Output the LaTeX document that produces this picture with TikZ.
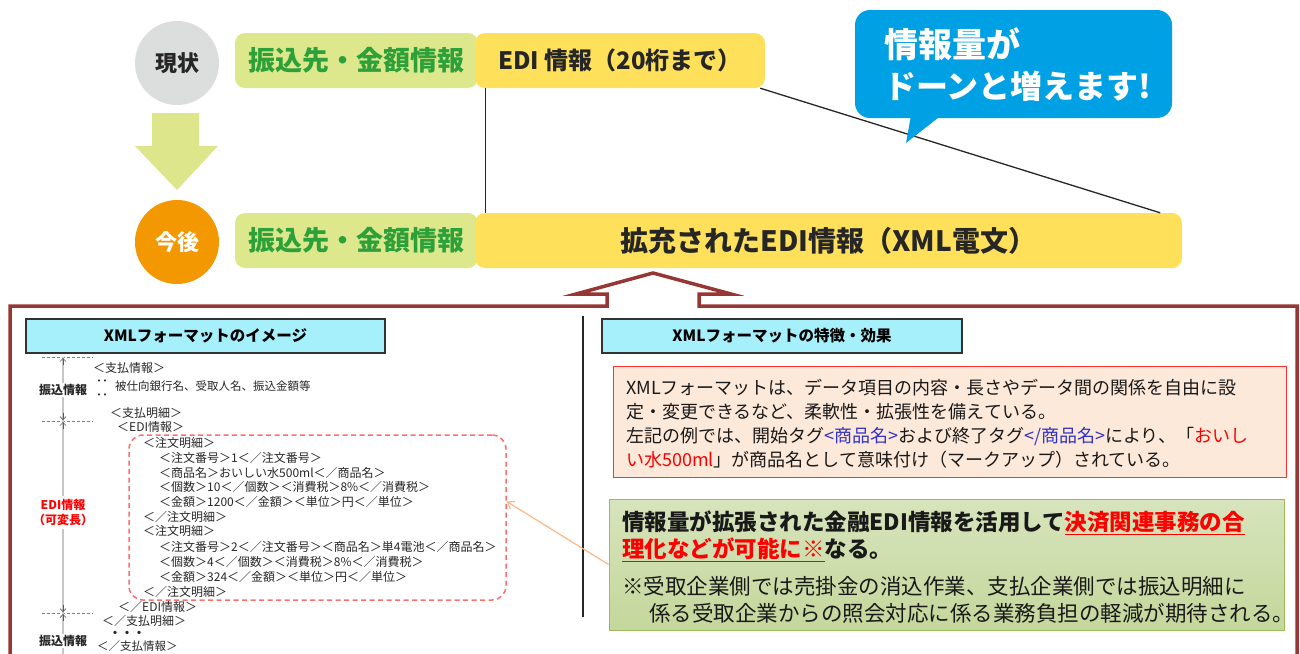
\documentclass[tikz,border=0pt]{standalone}
\usepackage{fontspec}
\setmainfont{Noto Sans CJK JP}
\usetikzlibrary{arrows.meta,calc}
\definecolor{circgray}{RGB}{220,221,221}
\definecolor{circorange}{RGB}{243,152,0}
\definecolor{arrgreen}{RGB}{222,230,140}
\definecolor{boxgreen}{RGB}{221,232,140}
\definecolor{txtgreen}{RGB}{46,160,58}
\definecolor{boxyellow}{RGB}{255,224,90}
\definecolor{bubbleblue}{RGB}{0,160,228}
\definecolor{framered}{RGB}{150,55,52}
\definecolor{hdrcyan}{RGB}{166,240,252}
\definecolor{peach}{RGB}{253,233,218}
\definecolor{descred}{RGB}{255,50,50}
\definecolor{gtop}{RGB}{215,228,189}
\definecolor{gbot}{RGB}{196,215,155}
\definecolor{gborder}{RGB}{155,187,89}
\definecolor{dashred}{RGB}{255,110,110}
\definecolor{arroworange}{RGB}{248,184,136}
\definecolor{tagblue}{RGB}{50,50,200}
\newcommand\fsz[1]{\fontsize{#1}{#1}\selectfont}
\begin{document}
\begin{tikzpicture}[x=1pt,y=-1pt,
  rbox/.style={rounded corners=10pt, minimum height=55pt, inner sep=0pt},
  greenbox/.style={rbox, fill=boxgreen, text=txtgreen, font=\bfseries\fsz{27}},
  yellowbox/.style={rbox, fill=boxyellow, text=black!85, font=\bfseries\fsz{24}},
  hdr/.style={draw=black!80, line width=1.2pt, fill=hdrcyan, minimum height=34pt, inner sep=0pt, font=\bfseries\fsz{15.5}},
  xml/.style={anchor=west, inner sep=0pt, font=\fsz{12}, text=black!85},
  lbl/.style={inner sep=1pt, fill=white, font=\bfseries\fsz{12}},
  measure/.style={draw=gray!45, line width=2pt},
  guide/.style={draw=gray, densely dashed, line width=0.6pt},
  frame/.style={draw=framered, line width=3.5pt, line join=miter},
  desc/.style={anchor=west, inner sep=0pt, font=\fsz{18}, text=black!90},
  gline/.style={anchor=west, inner sep=0pt, text=black!90},
  barb/.style={gray!70!black, line width=0.7pt, {Straight Barb[length=3pt,width=6pt]}-}
]
\useasboundingbox (0,0) rectangle (1300,653);
\clip (0,0) rectangle (1300,653);

% ---- top part ----
\node[circle, fill=circgray, minimum size=84pt, inner sep=0pt, font=\bfseries\fsz{22}, text=black!85] (now) at (177,63) {現状};
\fill[arrgreen] (152,113) -- (199,113) -- (199,146) -- (218,146) -- (177,190) -- (135,146) -- (152,146) -- cycle;
\node[circle, fill=circorange, minimum size=84pt, inner sep=0pt, font=\bfseries\fsz{22}, text=white] (future) at (177,242) {今後};

\node[greenbox, minimum width=243pt] (g1) at (356.5,60.5) {振込先・金額情報\hspace{6pt}};
\node[greenbox, minimum width=243pt] (g2) at (356.5,240.5) {振込先・金額情報\hspace{6pt}};
\node[yellowbox, minimum width=290pt] (edi1) at (620,60.5) {EDI 情報（20桁まで）};
\node[yellowbox, minimum width=707pt, font=\bfseries\fsz{28}] (edi2) at (828.5,240.5) {拡充されたEDI情報（XML電文）};

\draw[black!85, line width=1pt] ([xshift=11pt]edi1.south west) -- ([xshift=11pt]edi2.north west);
\draw[black!85, line width=1.3pt] ([xshift=-5pt]edi1.south east) -- ([xshift=-22pt]edi2.north east);

\node[fill=bubbleblue, rounded corners=15pt, minimum width=317pt, minimum height=108pt, inner sep=0pt] (bubble) at (1013.5,64) {};
\fill[bubbleblue] (912,110) -- (948,110) -- (906,143) -- cycle;
\node[anchor=west, inner sep=0pt, text=white, font=\bfseries\fsz{34}] (b1) at (884,44) {情報量が};
\node[anchor=west, inner sep=0pt, text=white, font=\bfseries\fsz{32}] (b2) at (884,86) {ドーンと増えます!};

% ---- frame ----
\draw[frame] (10,700) -- (10,306) -- (607,306) -- (607,294) -- (576,294) -- (653,273) -- (731,294) -- (699,294) -- (699,306) -- (1297,306) -- (1297,700);

% ---- headers ----
\node[hdr, minimum width=359pt] (lhdr) at (205.5,336) {XMLフォーマットのイメージ};
\node[hdr, minimum width=360pt] (rhdr) at (782,336) {XMLフォーマットの特徴・効果};
\draw[black!85, line width=1.2pt] (583,316) -- (583,617);

% measuring guides
\coordinate (m0) at (63,357);
\coordinate (m1) at (63,421);
\coordinate (m2) at (63,613);
\coordinate (m3) at (63,660);
\draw[guide] (42,357) -- (93,357);
\draw[guide] (42,421) -- (93,421);
\draw[guide] (42,613) -- (93,613);
\draw[measure] (m0) -- (m1);
\draw[measure] (m1) -- (m2);
\draw[measure] (m2) -- (m3);
\draw[barb] ($(m0)+(0,1)$) -- ($(m0)+(0,8)$);
\draw[barb] ($(m1)+(0,-1)$) -- ($(m1)+(0,-8)$);
\draw[barb] ($(m1)+(0,1)$) -- ($(m1)+(0,8)$);
\draw[barb] ($(m2)+(0,-1)$) -- ($(m2)+(0,-8)$);
\draw[barb] ($(m2)+(0,1)$) -- ($(m2)+(0,8)$);
\node[lbl, text=black!85] (l1) at (63,390) {振込情報};
\fill[white] (38,496) rectangle (88,529);
\node[lbl, text=red, fill=none] (l2a) at (63,505) {EDI情報};
\node[lbl, text=red, fill=none] (l2b) at (63,520) {（可変長）};
\node[lbl, text=black!85] (l3) at (63,641) {振込情報};

% dashed group
\node[draw=dashred, dash pattern=on 5pt off 3.5pt, line width=1.5pt, rounded corners=14pt, minimum width=377pt, minimum height=165pt, inner sep=0pt] (grp) at (317.5,517.5) {};

% xml lines
\node[xml] (x1) at (93,368) {＜支払情報＞};
\node[xml, font=\bfseries\fsz{12}] (x2a) at (96,383) {‥};
\node[xml, font=\fsz{11.5}] (x2) at (115,386) {被仕向銀行名、受取人名、振込金額等};
\node[xml, font=\bfseries\fsz{12}] (x2b) at (96,397) {‥};
\node[xml] (x3) at (110,413) {＜支払明細＞};
\node[xml] (x4) at (117,427) {＜EDI情報＞};
\node[xml] (x5) at (143,443) {＜注文明細＞};
\node[xml] (x6) at (159,458) {＜注文番号＞1＜／注文番号＞};
\node[xml] (x7) at (159,473) {＜商品名＞おいしい水500ml＜／商品名＞};
\node[xml] (x8) at (159,487) {＜個数＞10＜／個数＞＜消費税＞8\%＜／消費税＞};
\node[xml] (x9) at (159,502) {＜金額＞1200＜／金額＞＜単位＞円＜／単位＞};
\node[xml] (x10) at (143,517) {＜／注文明細＞};
\node[xml] (x11) at (143,531) {＜注文明細＞};
\node[xml] (x12) at (159,547) {＜注文番号＞2＜／注文番号＞＜商品名＞単4電池＜／商品名＞};
\node[xml] (x13) at (159,562) {＜個数＞4＜／個数＞＜消費税＞8\%＜／消費税＞};
\node[xml] (x14) at (159,577) {＜金額＞324＜／金額＞＜単位＞円＜／単位＞};
\node[xml] (x15) at (143,592) {＜／注文明細＞};
\node[xml] (x16) at (118,607) {＜／EDI情報＞};
\node[xml] (x17) at (102,621) {＜／支払明細＞};
\node[xml, font=\bfseries\fsz{12}] (x18) at (109,634) {・・・};
\node[xml, font=\fsz{11.5}] (x19) at (97,646) {＜／支払情報＞};

% ---- right panel ----
\node[draw=descred, line width=1pt, fill=peach, minimum width=673pt, minimum height=111pt, inner sep=0pt] (descbox) at (949.5,421.5) {};
\node[desc] (d1) at (626,388) {XMLフォーマットは、データ項目の内容・長さやデータ間の関係を自由に設};
\node[desc] (d2) at (626,412) {定・変更できるなど、柔軟性・拡張性を備えている。};
\node[desc] (d3) at (626,436) {左記の例では、開始タグ\textcolor{tagblue}{<商品名>}および終了タグ\textcolor{tagblue}{</商品名>}により、「\textcolor{red}{おいし}};
\node[desc] (d4) at (626,460) {\textcolor{red}{い水500ml}」が商品名として意味付け（マークアップ）されている。};

\node[draw=gborder, line width=1pt, top color=gtop, bottom color=gbot, minimum width=675pt, minimum height=131pt, inner sep=0pt] (gbox) at (946.5,564.5) {};
\node[gline, font=\bfseries\fsz{22.5}] (e1) at (622,523) {情報量が拡張された金融EDI情報を活用して\textcolor{red}{\underline{決済関連事務の合}}};
\node[gline, font=\bfseries\fsz{22.5}] (e2) at (622,550) {\textcolor{red}{\underline{理化などが可能に※}}なる。};
\node[gline, font=\fsz{21.5}] (e3) at (622,586) {※受取企業側では売掛金の消込作業、支払企業側では振込明細に};
\node[gline, font=\fsz{21.5}] (e4) at (649,613) {係る受取企業からの照会対応に係る業務負担の軽減が期待される。};

\draw[arroworange, line width=1.2pt, -{Straight Barb[length=6pt,width=9pt]}] (gbox.west) -- ([yshift=16pt]grp.east);
\end{tikzpicture}
\end{document}
